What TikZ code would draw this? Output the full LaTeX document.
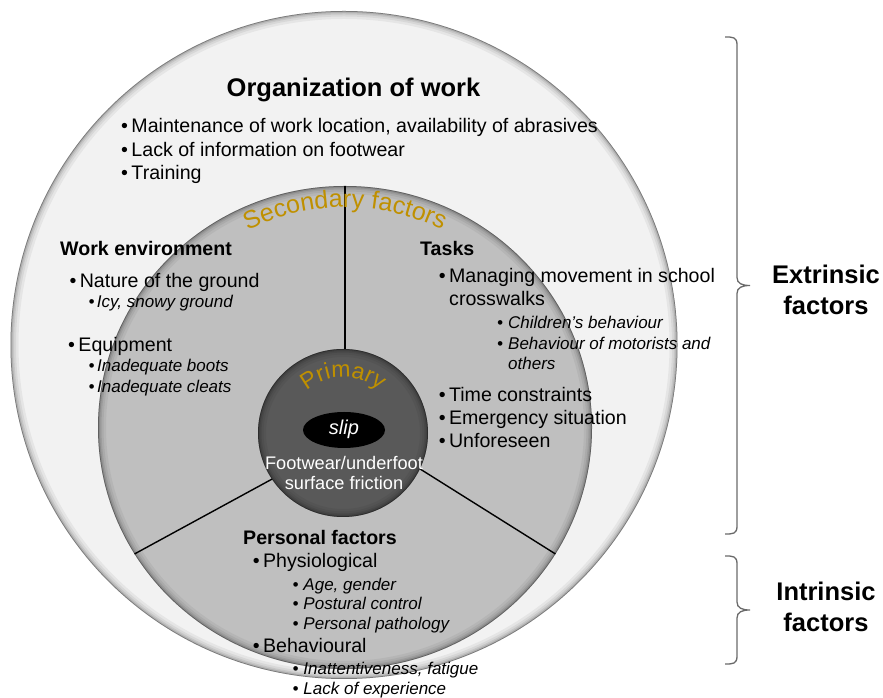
\documentclass[tikz,border=0pt]{standalone}
\usepackage{fontspec}
\setmainfont{Liberation Sans}
\usetikzlibrary{shapes.geometric,decorations.text,calc}
\definecolor{ringlight}{HTML}{F2F2F2}
\definecolor{ringmid}{HTML}{BFBFBF}
\definecolor{coredark}{HTML}{595959}
\definecolor{labelgold}{HTML}{BF9000}
\definecolor{bracegrey}{HTML}{6A6A6A}

\newcommand{\titlefont}{\fontsize{25.5}{30}\selectfont\bfseries}
\newcommand{\headfont}{\fontsize{19.6}{23.5}\selectfont\bfseries}
\newcommand{\itemfont}{\fontsize{19.6}{23.5}\selectfont}
\newcommand{\subfont}{\fontsize{17}{20}\selectfont\itshape}
\newcommand{\bul}[1][10.3pt]{\makebox[#1][l]{\textbullet}}
% soft dark rim just inside an ellipse: centre, x radius, y radius
\newcommand{\rimshade}[3]{%
  \begin{scope}
    \clip (#1) ellipse [x radius=#2, y radius=#3];
    \foreach \w/\o in {16/.05, 11/.06, 7/.08, 4/.11, 1.5/.3}
      \draw[black, line width=\w pt, opacity=\o] (#1) ellipse [x radius=#2, y radius=#3];
  \end{scope}}
% right-hand curly brace between two named coordinates (same x)
\newcommand{\rightbrace}[2]{%
  \draw[sidebrace] (#1) .. controls ++(8,0) and ++(0,8) .. ([shift={(12,-8)}]#1)
    -- ($(#1)!.5!(#2) + (12,8)$) .. controls ++(0,-6) and ++(-8,0) .. ($(#1)!.5!(#2) + (25,0)$)
    .. controls ++(-8,0) and ++(0,6) .. ($(#1)!.5!(#2) + (12,-8)$)
    -- ([shift={(12,8)}]#2) .. controls ++(0,-8) and ++(8,0) .. (#2);}

\begin{document}
\begin{tikzpicture}[x=1pt, y=1pt,
  ring/.style={ellipse, inner sep=0pt, outer sep=0pt},
  divider/.style={black, line width=1.4pt},
  headtext/.style={font=\headfont, anchor=base west, inner sep=0pt},
  itemtext/.style={font=\itemfont, anchor=base west, inner sep=0pt},
  subtext/.style={font=\subfont, anchor=base west, inner sep=0pt},
  sidetext/.style={font=\titlefont, align=center, inner sep=0pt, anchor=base},
  sidebrace/.style={bracegrey, line width=1.3pt}]
\useasboundingbox (0,0) rectangle (883,698);

% rings
\node[ring, fill=ringlight, minimum width=667pt, minimum height=668pt] (org) at (344,353) {};
\rimshade{org.center}{333.5}{334}
\node[ring, fill=ringmid, minimum width=494pt, minimum height=483pt] (sec) at (345,270.5) {};
\rimshade{sec.center}{247}{241.5}
\node[ring, fill=coredark, minimum width=170pt, minimum height=168pt] (prim) at (343,265) {};
\rimshade{prim.center}{85}{84}
\node[ring, fill=black, minimum width=82pt, minimum height=36pt] (slip) at (344,268) {};

\draw[divider] (sec.north) -- (sec.north |- prim.north);
\draw[divider] (prim.213) -- (sec.211);
\draw[divider] (prim.335) -- (sec.329.4);

% curved ring labels
\path[decorate, decoration={text along path, text align=center, text color=labelgold,
  text={|\fontsize{25}{29}\selectfont|Secondary factors}}]
  (sec.center) ++(140:220pt) arc[start angle=140, end angle=40, radius=220pt];
\path[decorate, decoration={text along path, text align=center, text color=labelgold,
  text={|\fontsize{23}{27}\selectfont|Primary}}]
  (prim.center) ++(145:56pt) arc[start angle=145, end angle=35, radius=56pt];

% core
\node[font=\fontsize{20}{24}\selectfont\itshape, text=white, anchor=base, inner sep=0pt] (sliptxt) at (344,263) {slip};
\node[font=\fontsize{18.2}{20}\selectfont, text=white, anchor=base, inner sep=0pt] (fric1) at (344,228) {Footwear/underfoot};
\node[font=\fontsize{18.2}{20}\selectfont, text=white, anchor=base, inner sep=0pt] (fric2) at (344,208) {surface friction};

% organization of work
\node[font=\titlefont, anchor=base, inner sep=0pt] (orgt) at (353.5,601) {Organization of work};
\node[itemtext] (org1) at (121,565) {\bul Maintenance of work location, availability of abrasives};
\node[itemtext] (org2) at (121,541.5) {\bul Lack of information on footwear};
\node[itemtext] (org3) at (121,518) {\bul Training};

% work environment
\node[headtext] (env) at (60,442) {Work environment};
\node[itemtext] (env1) at (69.3,410) {\bul Nature of the ground};
\node[subtext] (env1a) at (88.3,390) {\bul[8.5pt]Icy, snowy ground};
\node[itemtext] (env2) at (68,346) {\bul Equipment};
\node[subtext] (env2a) at (88.5,326) {\bul[8.5pt]Inadequate boots};
\node[subtext] (env2b) at (88.5,305) {\bul[8.5pt]Inadequate cleats};

% tasks
\node[headtext] (task) at (420,442) {Tasks};
\node[itemtext] (task1) at (438.6,415) {\bul Managing movement in school};
\node[itemtext] (task1c) at (449,392) {crosswalks};
\node[subtext] (task1a) at (497,369) {\bul[11pt]Children’s behaviour};
\node[subtext] (task1b) at (497,348) {\bul[11pt]Behaviour of motorists and};
\node[subtext] (task1d) at (508,328) {others};
\node[itemtext] (task2) at (438.6,296) {\bul Time constraints};
\node[itemtext] (task3) at (438.6,273) {\bul Emergency situation};
\node[itemtext] (task4) at (438.6,250) {\bul Unforeseen};

% personal factors
\node[headtext] (pers) at (243,153) {Personal factors};
\node[itemtext] (pers1) at (252.6,130) {\bul Physiological};
\node[subtext] (pers1a) at (292.3,107) {\bul[11pt]Age, gender};
\node[subtext] (pers1b) at (292.3,88) {\bul[11pt]Postural control};
\node[subtext] (pers1c) at (292.3,68) {\bul[11pt]Personal pathology};
\node[itemtext] (pers2) at (252.6,45) {\bul Behavioural};
\node[subtext] (pers2a) at (292.3,23) {\bul[11pt]Inattentiveness, fatigue};
\node[subtext] (pers2b) at (292.3,3) {\bul[11pt]Lack of experience};

% side braces
\coordinate (extTop) at (725,661);
\coordinate (extBot) at (725,164);
\coordinate (intTop) at (725,142);
\coordinate (intBot) at (725,34);
\rightbrace{extTop}{extBot}
\rightbrace{intTop}{intBot}
\node[sidetext] (ext) at (826,383) {Extrinsic\\[1pt]factors};
\node[sidetext] (intr) at (826,66) {Intrinsic\\[1pt]factors};
\end{tikzpicture}
\end{document}
